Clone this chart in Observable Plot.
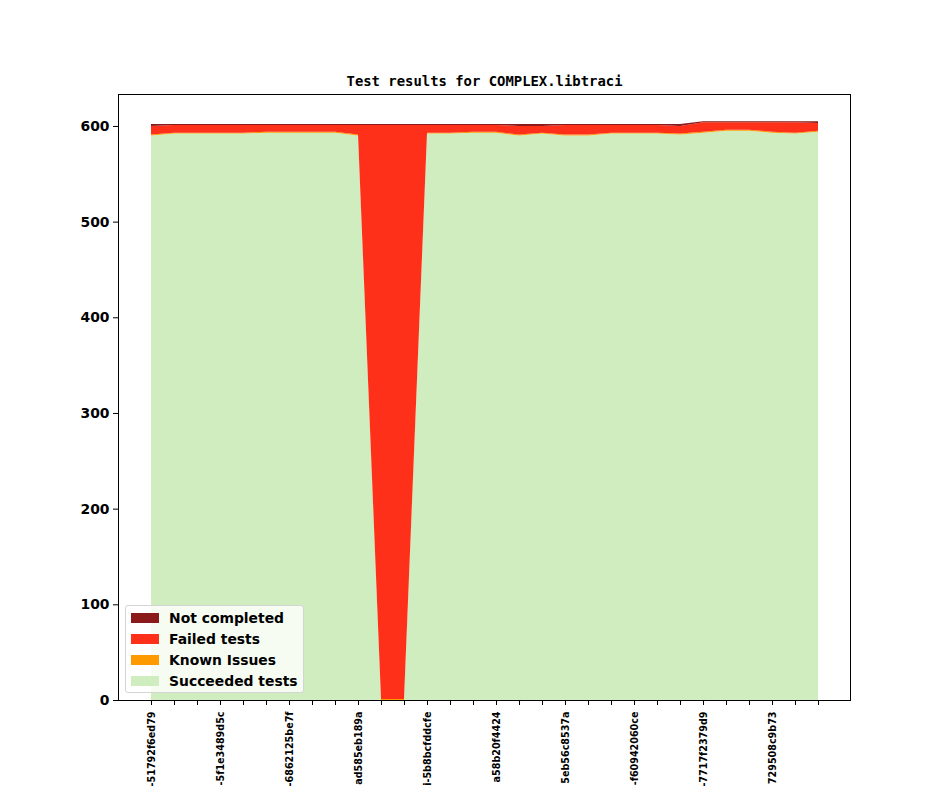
<!DOCTYPE html>
<html><head><meta charset="utf-8">
<script src="https://cdn.jsdelivr.net/npm/d3@7"></script>
<script src="https://cdn.jsdelivr.net/npm/@observablehq/plot@0.6"></script>
<style>
body{margin:0;background:#fff;}
#wrap{position:relative;width:944px;height:787px;overflow:hidden;}
#legend{position:absolute;left:125px;top:605px;width:179px;height:88px;background:rgba(255,255,255,0.8);border:1px solid #d4d4d4;border-radius:3px;box-sizing:border-box;font:bold 13.9px "DejaVu Sans";color:#000;}
.row{position:absolute;left:5px;height:20px;display:flex;align-items:center;white-space:nowrap;}
.sw{width:28px;height:10px;margin-right:10px;}
</style></head>
<body><div id="wrap"><div id="legend"></div></div>
<script>
const title = "Test results for COMPLEX.libtraci";
const tickLabels = ["-51792f6ed79", "-5f1e3489d5c", "-6862125be7f", "ad585eb189a", "i-5b8bcfddcfe",
  "a58b20f4424", "5eb56c8537a", "-f60942060ce", "-7717f2379d9", "729508c9b73"];
const yTicks = [0, 100, 200, 300, 400, 500, 600];
const seriesNames = ["Not completed", "Failed tests", "Known Issues", "Succeeded tests"];
const seriesColors = ["#8b1a1a", "#ff3019", "#ff9900", "#cfedbf"];
const stackOrder = ["Succeeded tests", "Known Issues", "Failed tests", "Not completed"];

const succeeded = [590,592,592,592,592,593,593,593,593,590,0,0,592,592,593,593,590,592,590,590,592,592,592,591,593,595,595,593,592,594];
const knownIssues = [1,1,1,1,1,1,1,1,1,1,1,1,1,1,1,1,1,1,1,1,1,1,1,1,1,1,1,1,1,1];
const failed = [9,8,8,8,8,7,7,7,7,10,600,600,8,8,7,7,9,7,10,10,8,8,8,8,10,8,8,10,11,8];
const notCompleted = [2,1,1,1,1,1,1,1,1,1,1,1,1,1,1,1,2,2,1,1,1,1,1,2,1,1,1,1,1,2];

const seriesValues = {
  "Succeeded tests": succeeded,
  "Known Issues": knownIssues,
  "Failed tests": failed,
  "Not completed": notCompleted
};
const data = [];
for (const s of stackOrder) seriesValues[s].forEach((v, i) => data.push({i, v, s}));
const xIdx = d3.range(succeeded.length);

const chart = Plot.plot({
  width: 944, height: 787,
  marginLeft: 118, marginRight: 94, marginTop: 94, marginBottom: 87,
  style: {fontFamily: "DejaVu Sans", fontWeight: "bold", fontSize: "13.9px", background: "white", color: "black"},
  x: {domain: [-1.435, 30.39]},
  y: {domain: [0, 633.4]},
  color: {domain: seriesNames, range: seriesColors},
  marks: [
    Plot.areaY(data, {x: "i", y: "v", fill: "s", order: stackOrder}),
    Plot.frame({stroke: "black"}),
    Plot.axisY({ticks: yTicks, tickSize: 5, tickPadding: 4, fontSize: 13.9, label: null}),
    Plot.axisX({ticks: xIdx, tickFormat: i => (i % 3 === 0 ? tickLabels[i / 3] : ""),
      tickRotate: -90, tickSize: 5, tickPadding: 6, fontSize: 9.6, label: null}),
    Plot.text([title], {frameAnchor: "top", dy: -18, fontFamily: "DejaVu Sans Mono", fontWeight: "bold", fontSize: 13.9})
  ]
});
const wrap = document.getElementById("wrap");
wrap.insertBefore(chart, wrap.firstChild);

const legend = document.getElementById("legend");
seriesNames.forEach((name, k) => {
  const row = document.createElement("div");
  row.className = "row";
  row.style.top = (2 + k * 21) + "px";
  const sw = document.createElement("div");
  sw.className = "sw";
  sw.style.background = seriesColors[k];
  const t = document.createElement("span");
  t.textContent = name;
  row.appendChild(sw); row.appendChild(t);
  legend.appendChild(row);
});
</script>
</body></html>
